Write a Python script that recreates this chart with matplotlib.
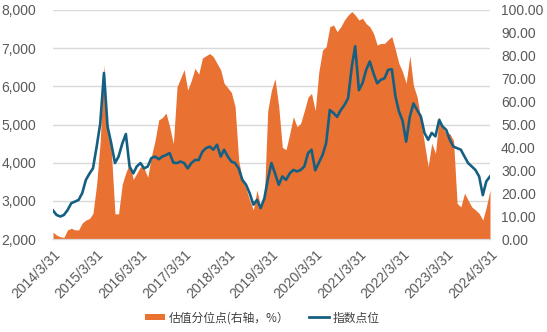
import matplotlib.pyplot as plt
import matplotlib.ticker as mticker
from matplotlib.patches import Patch
from matplotlib.lines import Line2D
import pandas as pd

plt.rcParams['font.family'] = ['Liberation Sans', 'Noto Sans CJK SC', 'DejaVu Sans']

# month-end dates 2014/3/31 .. 2024/3/31
dates = pd.date_range('2014-03-31', '2024-03-31', freq='ME')

index_pts = [
    2750, 2630, 2590, 2630, 2760, 2940, 2980, 3025, 3200, 3550,
    3720, 3850, 4420, 5030, 6350, 4950, 4500, 3990, 4160, 4500,
    4750, 3900, 3720, 3900, 3990, 3850, 3900, 4120, 4160, 4090,
    4160, 4200, 4250, 4000, 3990, 4030, 3990, 3850, 3990, 4070,
    4070, 4290, 4380, 4420, 4340, 4470, 4160, 4340, 4160, 4030,
    3990, 3850, 3550, 3420, 3200, 2900, 3025, 2810, 3070, 3550,
    3990, 3720, 3420, 3640, 3550, 3720, 3810, 3770, 3810, 3900,
    4250, 4340, 3800, 4000, 4200, 4510, 5380, 5300, 5200, 5380,
    5510, 5690, 6520, 7050, 5900, 6080, 6430, 6650, 6340, 6080,
    6170, 6210, 6430, 6450, 5730, 5350, 5100, 4550, 5210, 5550,
    5380, 5210, 4780, 4600, 4780, 4690, 5120, 4950, 4860, 4600,
    4420, 4380, 4340, 4160, 3990, 3900, 3810, 3640, 3150, 3510,
    3640,
]

pct = [
    3, 1.7, 1, 0.7, 4, 4.7, 4, 4, 7, 8.3,
    9, 11.2, 24, 43, 76, 46, 39, 11, 11, 24,
    29, 33, 26, 28.7, 31.6, 31, 27, 36, 43, 52,
    53, 55, 49, 41.6, 66.5, 70, 74, 65, 69.4, 74.5,
    72, 79, 80, 81, 79.6, 76.7, 73.8, 68, 66, 64,
    57.8, 34.5, 25.8, 22, 17, 12.7, 21.4, 14, 18.5, 56,
    65, 70, 57.8, 40, 39, 46, 53.4, 49, 50.5, 56,
    62, 63.6, 56, 73, 82.5, 84, 92.7, 93.4, 90.5, 92.7,
    95.6, 97.8, 99.3, 97.8, 95.6, 96.4, 94, 92.7, 89.8, 84.7,
    85.4, 85.4, 87, 88.4, 82.5, 76.7, 73, 68, 80, 67,
    62, 52, 41.8, 31.6, 41.8, 37.4, 53.4, 49, 46, 46,
    43, 15.6, 14, 20, 17, 14, 12.7, 11.2, 8.3, 14,
    21.4,
]

xtick_dates = pd.date_range('2014-03-31', '2024-03-31', freq='12ME')
legend_labels = ['估值分位点(右轴，%）', '指数点位']

orange = '#E97132'
blue = '#156082'
grey = '#595959'

fig = plt.figure(figsize=(5.47, 3.32), dpi=100)
ax = fig.add_axes([0.0969, 0.280, 0.7989, 0.690])
ax2 = ax.twinx()
ax3 = ax.twinx()

# left axis: grid + ticks
ax.set_ylim(2000, 8000)
ax.set_yticks(range(2000, 8001, 1000))
ax.yaxis.set_major_formatter(mticker.FuncFormatter(lambda v, p: f'{int(v):,}'))
ax.grid(axis='y', color='#D9D9D9', linewidth=1)
ax.tick_params(axis='y', length=0, pad=12, labelsize=10, labelcolor=grey)

# right axis: valuation percentile area
ax2.fill_between(dates, 0, pct, color=orange, linewidth=0)
ax2.set_ylim(0, 100)
ax2.set_yticks(range(0, 101, 10))
ax2.yaxis.set_major_formatter(mticker.FormatStrFormatter('%.2f'))
ax2.tick_params(axis='y', length=0, pad=8, labelsize=10, labelcolor=grey)

# index line on left scale
ax3.plot(dates, index_pts, color=blue, linewidth=1.9)
ax3.set_ylim(2000, 8000)
ax3.set_yticks([])

for a in (ax, ax2, ax3):
    for s in ('top', 'left', 'right'):
        a.spines[s].set_visible(False)
    a.spines['bottom'].set_color('#D9D9D9')
    a.set_xlim(dates[0], dates[-1])

ax.set_xticks(xtick_dates)
ax.set_xticklabels([f'{d.year}/{d.month}/{d.day}' for d in xtick_dates],
                   rotation=45, ha='right', rotation_mode='anchor')
ax.tick_params(axis='x', length=0, pad=6, labelsize=10, labelcolor=grey)
ax2.tick_params(axis='x', length=0, labelbottom=False)
ax3.tick_params(axis='x', length=0, labelbottom=False)

handles = [Patch(facecolor=orange, edgecolor='none'),
           Line2D([], [], color=blue, linewidth=2)]
fig.legend(handles, legend_labels, loc='center', bbox_to_anchor=(0.48, 0.043),
           ncol=2, frameon=False, handlelength=1.7, handleheight=0.5,
           columnspacing=1.7, handletextpad=0.3,
           prop={'family': ['Noto Sans CJK SC', 'DejaVu Sans'], 'size': 8.5},
           labelcolor='#404040')

fig.savefig('out.png', dpi=100)
